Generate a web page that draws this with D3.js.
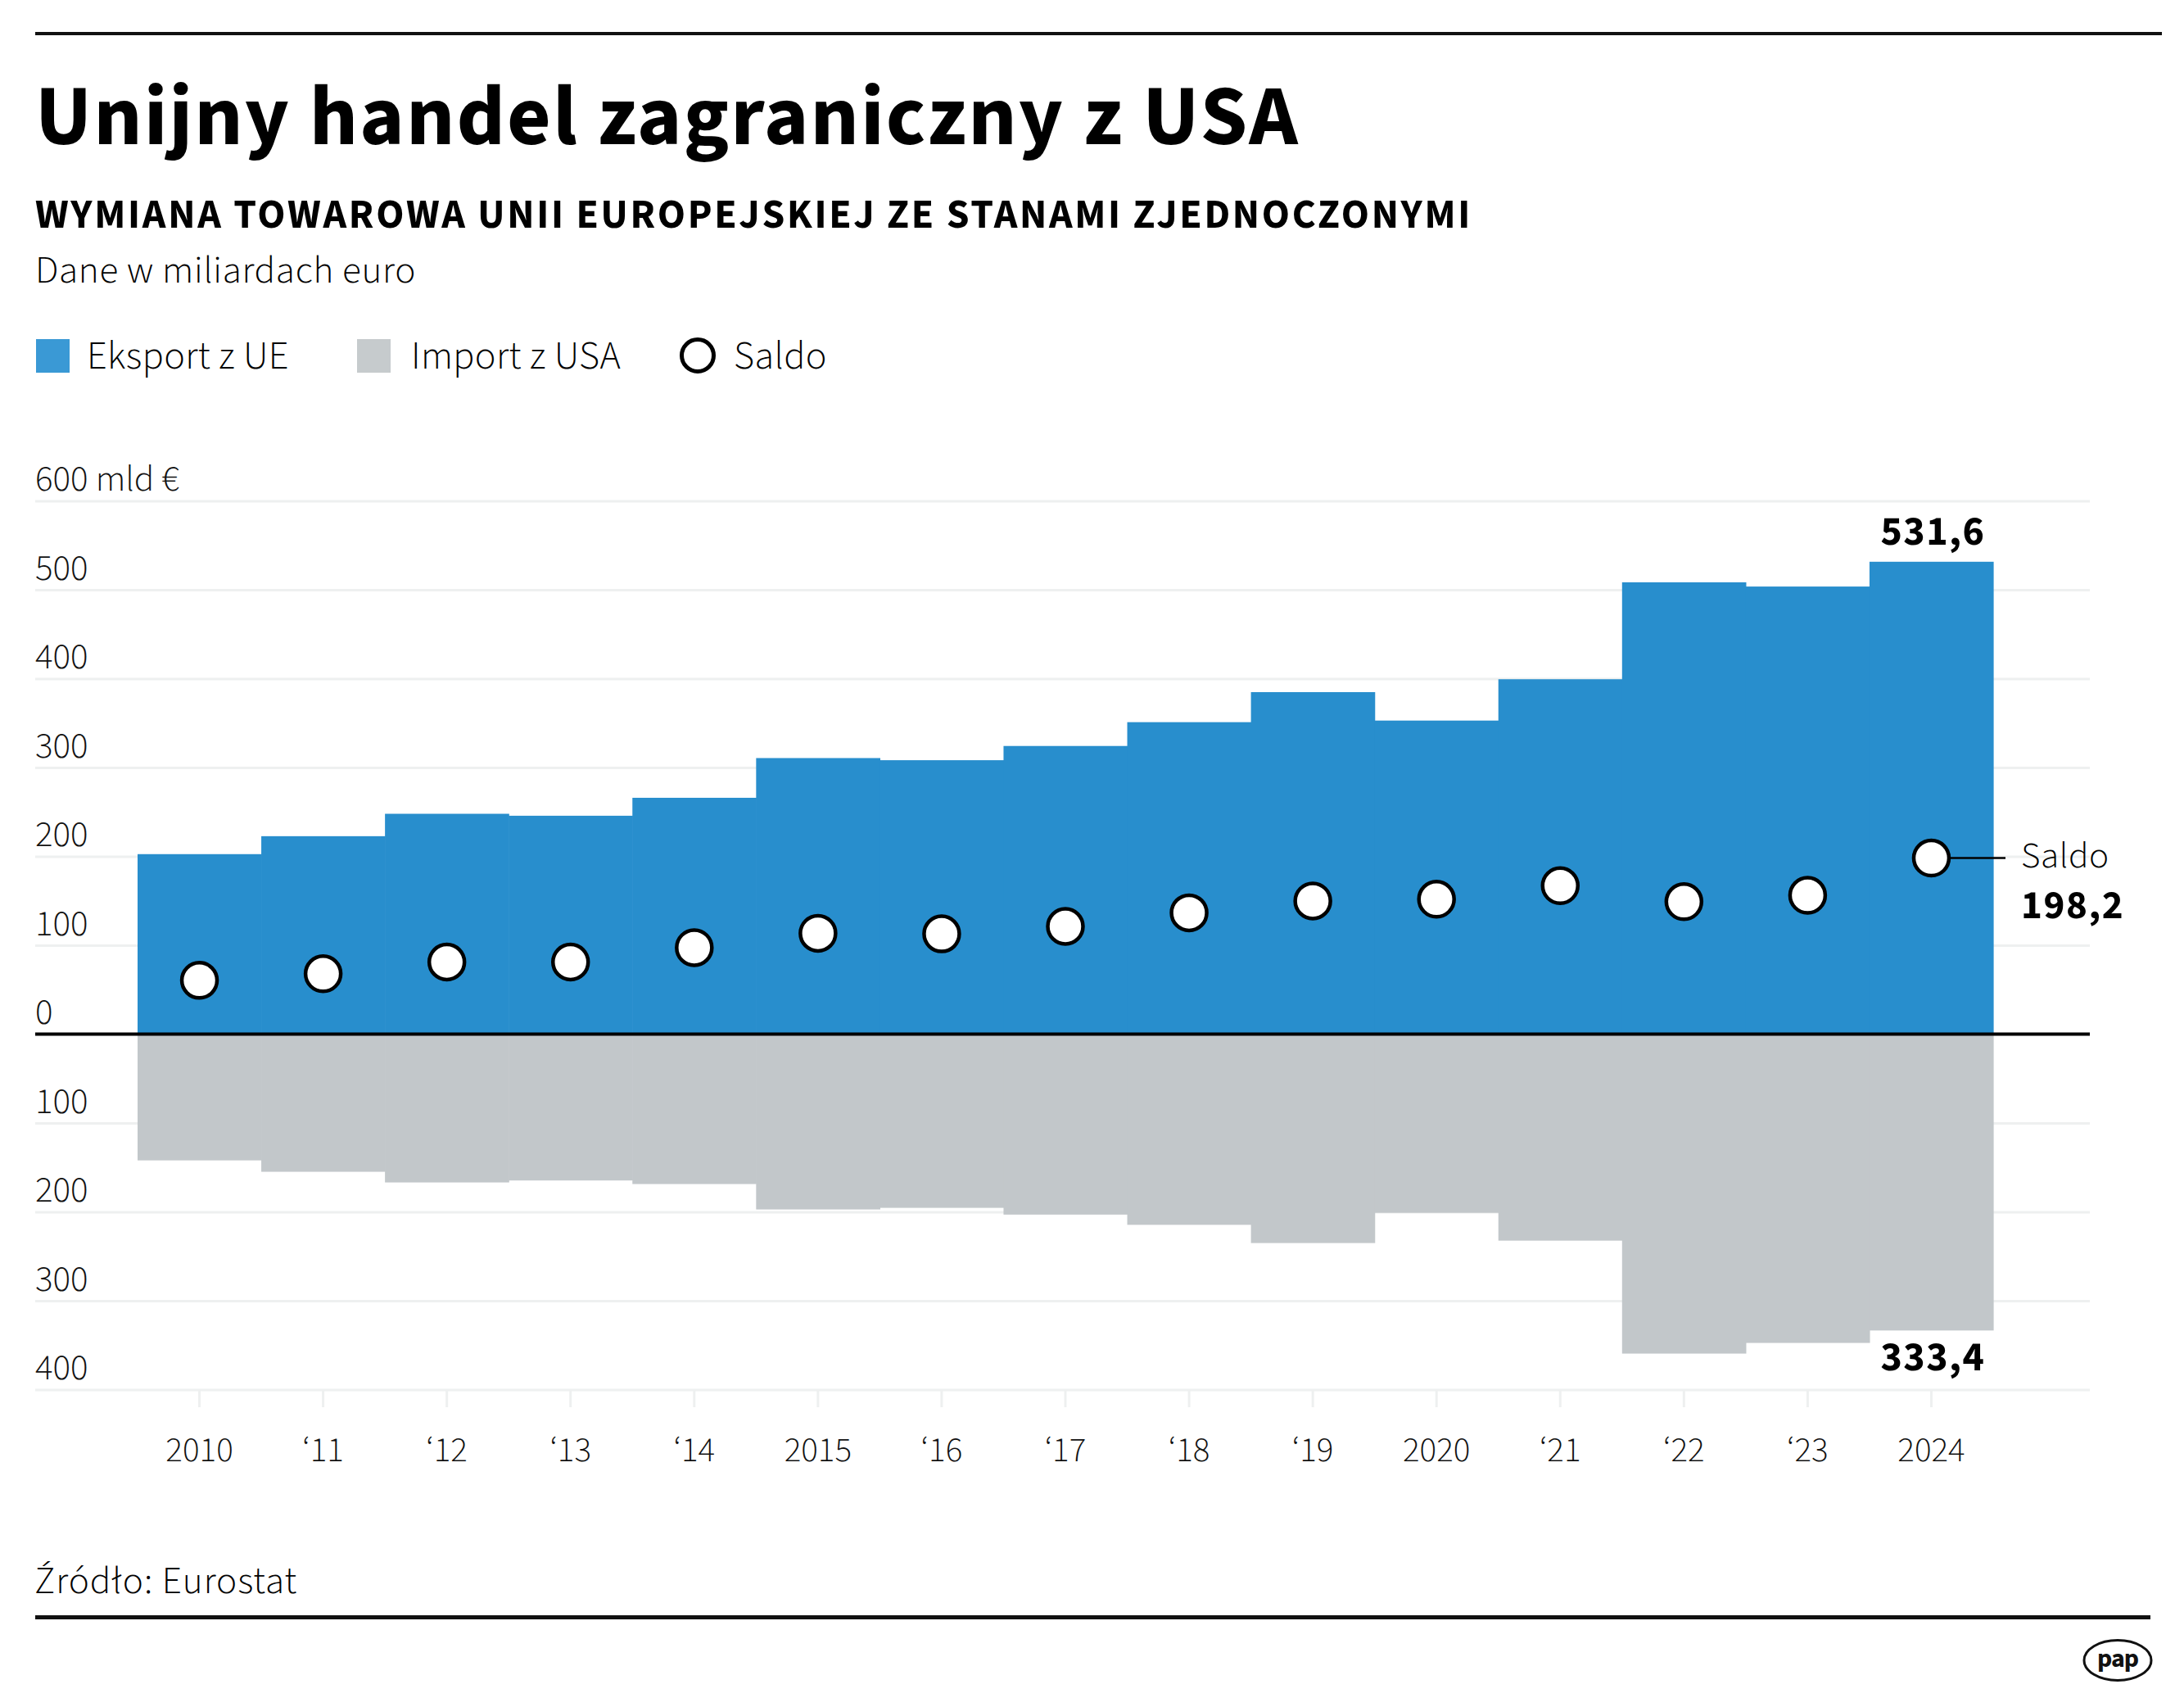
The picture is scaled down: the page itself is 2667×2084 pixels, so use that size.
<!doctype html>
<html lang="pl">
<head>
  <meta charset="utf-8">
  <title>Unijny handel zagraniczny z USA</title>
  <script src="https://d3js.org/d3.v7.min.js"></script>
  <style>
    body { margin: 0; background: #fff; }
    svg { display: block; font-family: "Source Sans Pro", "Source Sans 3", Lato, sans-serif; }
    svg text { font-family: "Source Sans Pro", "Source Sans 3", Lato, sans-serif; }
  </style>
</head>
<body>
  <script type="text/javascript">
    // data (mld euro)
    var years = [2010, 2011, 2012, 2013, 2014, 2015, 2016, 2017, 2018, 2019, 2020, 2021, 2022, 2023, 2024];
    var yearLabels = ["2010", "\u201811", "\u201812", "\u201813", "\u201814", "2015", "\u201816", "\u201817", "\u201818", "\u201819", "2020", "\u201821", "\u201822", "\u201823", "2024"];
    var exportEU = [202.6, 222.8, 248.0, 245.8, 266.0, 310.7, 308.3, 324.3, 351.1, 384.9, 352.9, 399.4, 508.5, 503.7, 531.6];
    var importUSA = [142.0, 154.8, 166.8, 164.6, 168.6, 197.2, 195.4, 203.0, 214.5, 235.0, 201.0, 232.3, 359.4, 347.4, 333.4];
    var saldo = [60.6, 68.0, 81.2, 81.2, 97.4, 113.5, 112.9, 121.3, 136.6, 149.9, 151.9, 167.1, 149.1, 156.3, 198.2];
    var yTicks = [-400, -300, -200, -100, 0, 100, 200, 300, 400, 500, 600];

    var width = 2667;
    var height = 2084;
    var blue = "#288ecd";
    var grey = "#c2c7ca";
    var light = 300;

    var svg = d3.select("body")
      .append("svg")
      .attr("width", width)
      .attr("height", height);

    // rules top and bottom
    svg.append("rect").attr("x", 43).attr("y", 39).attr("width", 2597).attr("height", 4).attr("fill", "#111");
    svg.append("rect").attr("x", 43).attr("y", 1972).attr("width", 2583).attr("height", 5).attr("fill", "#111");

    // headings
    svg.append("text").attr("x", 43).attr("y", 176)
      .attr("font-size", 104).attr("font-weight", 700).attr("letter-spacing", 2)
      .text("Unijny handel zagraniczny z USA");
    svg.append("text").attr("x", 43).attr("y", 278)
      .attr("font-size", 50).attr("font-weight", 700).attr("letter-spacing", 2.7)
      .text("WYMIANA TOWAROWA UNII EUROPEJSKIEJ ZE STANAMI ZJEDNOCZONYMI");
    svg.append("text").attr("x", 43).attr("y", 345)
      .attr("font-size", 47).attr("font-weight", light).attr("letter-spacing", 0.7)
      .text("Dane w miliardach euro");

    // legend
    var legend = svg.append("g").attr("font-size", 48).attr("font-weight", light).attr("letter-spacing", 0.4);
    legend.append("rect").attr("x", 44).attr("y", 414).attr("width", 41).attr("height", 41).attr("fill", "#3a99d5");
    legend.append("text").attr("x", 106).attr("y", 450).text("Eksport z UE");
    legend.append("rect").attr("x", 436).attr("y", 414).attr("width", 41).attr("height", 41).attr("fill", "#c6cbcd");
    legend.append("text").attr("x", 502).attr("y", 450).text("Import z USA");
    legend.append("circle").attr("cx", 852).attr("cy", 434).attr("r", 19.5)
      .attr("fill", "#fff").attr("stroke", "#000").attr("stroke-width", 5);
    legend.append("text").attr("x", 896).attr("y", 450).text("Saldo");

    // scales
    var x = d3.scaleBand()
      .domain(years)
      .range([168, 2434])
      .paddingInner(0)
      .paddingOuter(0);

    var y = d3.scaleLinear()
      .domain([-400, 600])
      .range([1696.6, 611.6]);

    // y gridlines + labels
    var yAxis = d3.axisRight(y)
      .tickValues(yTicks)
      .tickSize(2509)
      .tickFormat(function(d) { return d == 600 ? "600 mld \u20ac" : String(Math.abs(d)); });

    var yAxisGroup = svg.append("g")
      .attr("class", "yAxisGroup")
      .attr("transform", "translate(43,0)")
      .call(yAxis)
      .attr("font-family", null)
      .attr("font-size", 45)
      .attr("font-weight", light);
    yAxisGroup.select(".domain").remove();
    yAxisGroup.selectAll("line").attr("stroke", "#eef0f0").attr("stroke-width", 3);
    yAxisGroup.selectAll("text")
      .attr("x", 0).attr("dy", 0).attr("y", -13)
      .attr("text-anchor", "start")
      .attr("fill", "#111");

    // x axis ticks
    var xAxis = d3.axisBottom(x)
      .tickSize(21)
      .tickFormat(function(d, i) { return yearLabels[i]; });

    var xAxisGroup = svg.append("g")
      .attr("class", "xAxisGroup")
      .attr("transform", "translate(0,1697)")
      .call(xAxis)
      .attr("font-family", null)
      .attr("font-size", 43)
      .attr("font-weight", light);
    xAxisGroup.select(".domain").remove();
    xAxisGroup.selectAll("line").attr("stroke", "#eef0f0").attr("stroke-width", 3);
    xAxisGroup.selectAll("text")
      .attr("y", 87).attr("dy", 0)
      .attr("fill", "#111");

    // export blocks
    svg.append("g").selectAll("rect")
      .data(years)
      .join("rect")
      .attr("x", function(d) { return x(d); })
      .attr("width", x.bandwidth() + 0.6)
      .attr("y", function(d, i) { return y(exportEU[i]); })
      .attr("height", function(d, i) { return y(0) - y(exportEU[i]); })
      .attr("fill", blue);

    // import blocks
    svg.append("g").selectAll("rect")
      .data(years)
      .join("rect")
      .attr("x", function(d) { return x(d); })
      .attr("width", x.bandwidth() + 0.6)
      .attr("y", y(0))
      .attr("height", function(d, i) { return y(-importUSA[i]) - y(0); })
      .attr("fill", grey);

    // zero line
    svg.append("line")
      .attr("x1", 43).attr("x2", 2552)
      .attr("y1", y(0)).attr("y2", y(0))
      .attr("stroke", "#000").attr("stroke-width", 4);

    // saldo dots
    var cx = function(i) { return x(years[i]) + x.bandwidth() / 2; };
    var last = years.length - 1;

    svg.append("line")
      .attr("x1", cx(last) + 22).attr("x2", 2449)
      .attr("y1", y(saldo[last])).attr("y2", y(saldo[last]))
      .attr("stroke", "#000").attr("stroke-width", 2.5);

    svg.append("g").selectAll("circle")
      .data(saldo)
      .join("circle")
      .attr("cx", function(d, i) { return cx(i); })
      .attr("cy", function(d) { return y(d); })
      .attr("r", 21.5)
      .attr("fill", "#fff")
      .attr("stroke", "#000")
      .attr("stroke-width", 4.5);

    // annotations
    var fmt = function(v) { return v.toFixed(1).replace(".", ","); };
    svg.append("text")
      .attr("x", cx(last) + 2).attr("y", y(exportEU[last]) - 21)
      .attr("text-anchor", "middle").attr("font-size", 50).attr("font-weight", 700).attr("letter-spacing", 1.5)
      .text(fmt(exportEU[last]));
    svg.append("text")
      .attr("x", cx(last) + 2).attr("y", y(-importUSA[last]) + 49)
      .attr("text-anchor", "middle").attr("font-size", 50).attr("font-weight", 700).attr("letter-spacing", 1.5)
      .text(fmt(importUSA[last]));

    // saldo label: one text block, two lines
    var saldoLabel = svg.append("text")
      .attr("x", 2468).attr("y", y(saldo[last]) + 11);
    saldoLabel.append("tspan")
      .attr("font-size", 45).attr("font-weight", light).attr("letter-spacing", 0.6)
      .text("Saldo");
    saldoLabel.append("tspan")
      .attr("x", 2468).attr("dy", 62)
      .attr("font-size", 49).attr("font-weight", 700).attr("letter-spacing", 1.6)
      .text(fmt(saldo[last]));

    // source
    svg.append("text").attr("x", 42).attr("y", 1945)
      .attr("font-size", 47).attr("font-weight", light).attr("letter-spacing", 1)
      .text("\u0179r\u00f3d\u0142o: Eurostat");

    // pap logo
    var logo = svg.append("g").attr("transform", "translate(2586,2027)");
    logo.append("ellipse").attr("rx", 41).attr("ry", 24.5)
      .attr("fill", "#fff").attr("stroke", "#111").attr("stroke-width", 3);
    logo.append("text").attr("y", 8).attr("text-anchor", "middle")
      .attr("font-family", "DejaVu Sans").attr("font-weight", 700)
      .attr("font-size", 32).attr("letter-spacing", -1).attr("fill", "#111")
      .text("pap");
  </script>
</body>
</html>
